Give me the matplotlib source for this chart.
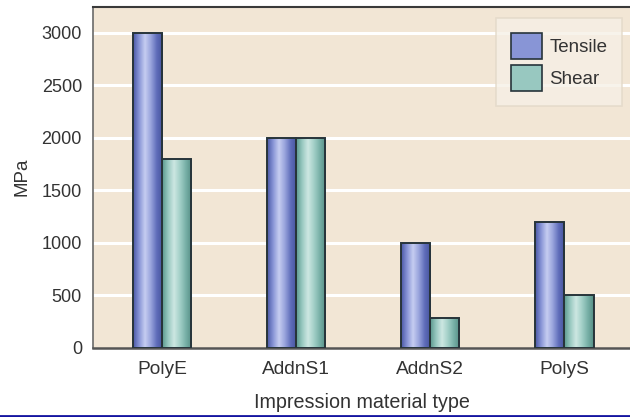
import numpy as np
import matplotlib
matplotlib.use("Agg")
import matplotlib.pyplot as plt
from matplotlib.colors import LinearSegmentedColormap
from matplotlib.lines import Line2D
from matplotlib.patches import Rectangle

plt.rcParams['font.family'] = ['Liberation Sans', 'DejaVu Sans']

categories = ["PolyE", "AddnS1", "AddnS2", "PolyS"]
tensile = [3000, 2000, 1000, 1200]
shear = [1800, 2000, 290, 500]
series_names = ["Tensile", "Shear"]
yticks = [0, 500, 1000, 1500, 2000, 2500, 3000]

W, H = 630, 417
fig = plt.figure(figsize=(W / 100, H / 100), dpi=100)
fig.patch.set_facecolor("white")

left, right, top, bottom = 93, 630, 6.5, 348
ax = fig.add_axes([left / W, 1 - bottom / H, (right - left) / W, (bottom - top) / H])
ax.set_facecolor("#f2e6d5")

for y in yticks[1:]:
    ax.axhline(y, color="white", lw=2.2, zorder=1)

blue_cmap = LinearSegmentedColormap.from_list(
    "blue_tube", ["#4a58a6", "#8895d6", "#c6cdf1", "#98a3dc", "#5f6dba", "#46539c"])
teal_cmap = LinearSegmentedColormap.from_list(
    "teal_tube", ["#5b988e", "#98c8c0", "#cde7e2", "#a3d0c8", "#78b0a7", "#558f86"])

x = np.arange(len(categories))
bw = 0.218
grad = np.linspace(0, 1, 64).reshape(1, -1)


def shaded_bars(xs, vals, cmap, label):
    bars = ax.bar(xs, vals, width=bw, facecolor="none", edgecolor="#27343a",
                  lw=1.4, zorder=4, label=label)
    for b in bars:
        x0, y0 = b.get_x(), b.get_y()
        w, h = b.get_width(), b.get_height()
        im = ax.imshow(grad, cmap=cmap, aspect="auto", extent=(x0, x0 + w, y0, y0 + h),
                       zorder=3, interpolation="bilinear")
        im.set_clip_path(b)
    return bars


shaded_bars(x - bw / 2, tensile, blue_cmap, series_names[0])
shaded_bars(x + bw / 2, shear, teal_cmap, series_names[1])
ax.set_xlim(-0.515, 3.49)
ax.set_ylim(0, 3250)

ax.spines["right"].set_visible(False)
ax.spines["top"].set_color("#3a3a3a")
ax.spines["top"].set_linewidth(1.5)
ax.spines["left"].set_color("#6a6a6a")
ax.spines["left"].set_linewidth(1.2)
ax.spines["bottom"].set_color("#555555")
ax.spines["bottom"].set_linewidth(1.8)

text_color = "#333333"
ax.set_yticks(yticks)
ax.set_yticklabels([str(v) for v in yticks])
ax.set_xticks(x)
ax.set_xticklabels(categories)
ax.tick_params(axis="both", length=0, colors=text_color)
ax.tick_params(axis="y", labelsize=13, pad=8)
ax.tick_params(axis="x", labelsize=13.8, pad=9)
ax.set_ylabel("MPa", fontsize=13.5, color=text_color, labelpad=8)
ax.set_xlabel("Impression material type", fontsize=14.2, color=text_color, labelpad=11)

handles = [Rectangle((0, 0), 1, 1, facecolor="#8895d6", edgecolor="#27343a", lw=1.2),
           Rectangle((0, 0), 1, 1, facecolor="#98c8c0", edgecolor="#27343a", lw=1.2)]
leg = ax.legend(handles, series_names, loc="upper right", bbox_to_anchor=(0.986, 0.966),
                prop={"size": 13.5}, frameon=True, fancybox=False, handlelength=1.65,
                handleheight=1.75, handletextpad=0.4, labelspacing=0.3,
                borderpad=0.8, borderaxespad=0)
leg.get_frame().set_facecolor("#f6f0e6")
leg.get_frame().set_edgecolor("#e2d8c8")
leg.get_frame().set_linewidth(1.2)
for t in leg.get_texts():
    t.set_color(text_color)

fig.add_artist(Line2D([0, 1], [1.5 / H, 1.5 / H], transform=fig.transFigure,
                      color="#1414a0", lw=2))

fig.savefig("out.png", dpi=100)
